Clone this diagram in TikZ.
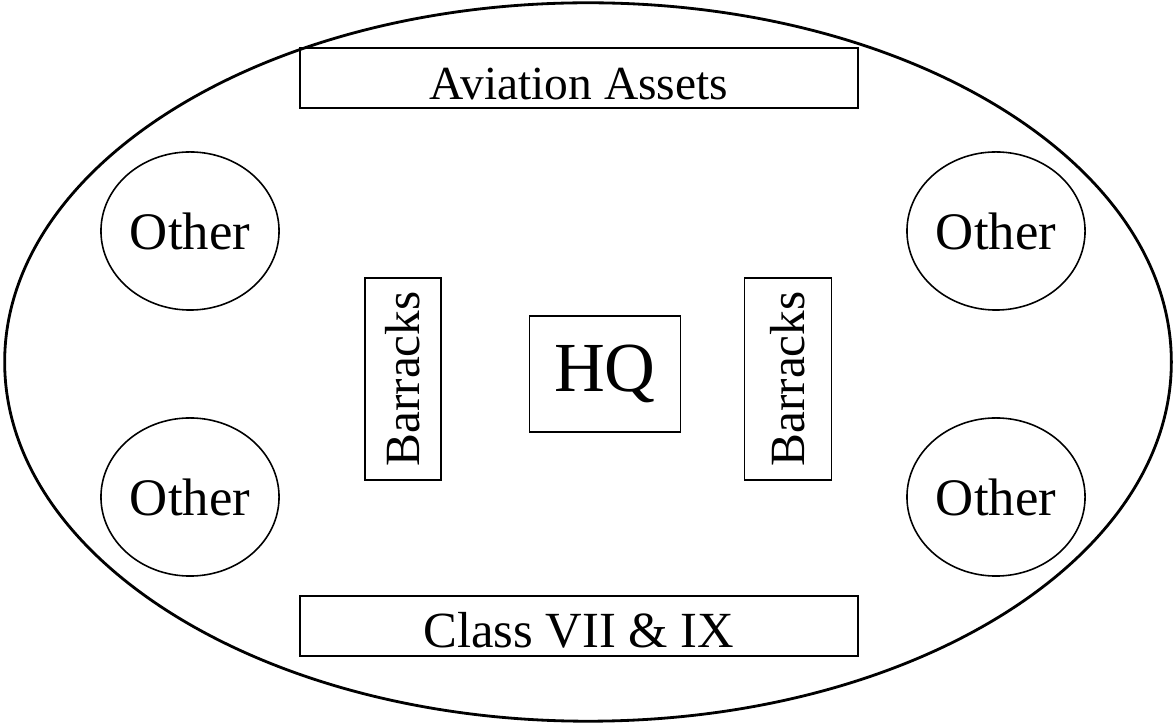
\documentclass[tikz,border=0pt]{standalone}
\usepackage{fontspec}
\setmainfont{Liberation Serif}
\usetikzlibrary{shapes.geometric}

\tikzset{
	site/.style={draw, line width=0.45pt, inner sep=0pt, font=\fontsize{14}{16}\selectfont},
	strip/.style={site, minimum width=5.58cm, minimum height=0.6cm, text height=12.5pt, text depth=0pt},
	other/.style={site, ellipse, minimum width=1.78cm, minimum height=1.58cm, font=\fontsize{15}{17}\selectfont},
}

\begin{document}
\begin{tikzpicture}[x=0.01cm, y=-0.01cm]
		\useasboundingbox (0,0) rectangle (1176,725);

		\node[draw, ellipse, line width=0.8pt, minimum width=11.66cm, minimum height=7.18cm] (base) at (588,362) {};

		\node[strip, font=\fontsize{13.5}{16}\selectfont] (avn) at (579,78) {Aviation Assets};
		\node[strip, font=\fontsize{14.4}{16}\selectfont] (cls) at (579,626) {Class VII \& IX};

		\node[site, minimum width=1.51cm, minimum height=1.16cm, font=\fontsize{20}{22}\selectfont] (hq) at (605,374) {HQ};
		\node[site, minimum width=0.76cm, minimum height=2.02cm] (barL) at (403,379) {\rotatebox{90}{Barracks}};
		\node[site, minimum width=0.87cm, minimum height=2.02cm] (barR) at (788,379) {\rotatebox{90}{Barracks}};

		\node[other] (otherNW) at (190,231) {Other};
		\node[other] (otherSW) at (190,497) {Other};
		\node[other] (otherNE) at (996,231) {Other};
		\node[other] (otherSE) at (996,497) {Other};
	\end{tikzpicture}
\end{document}
